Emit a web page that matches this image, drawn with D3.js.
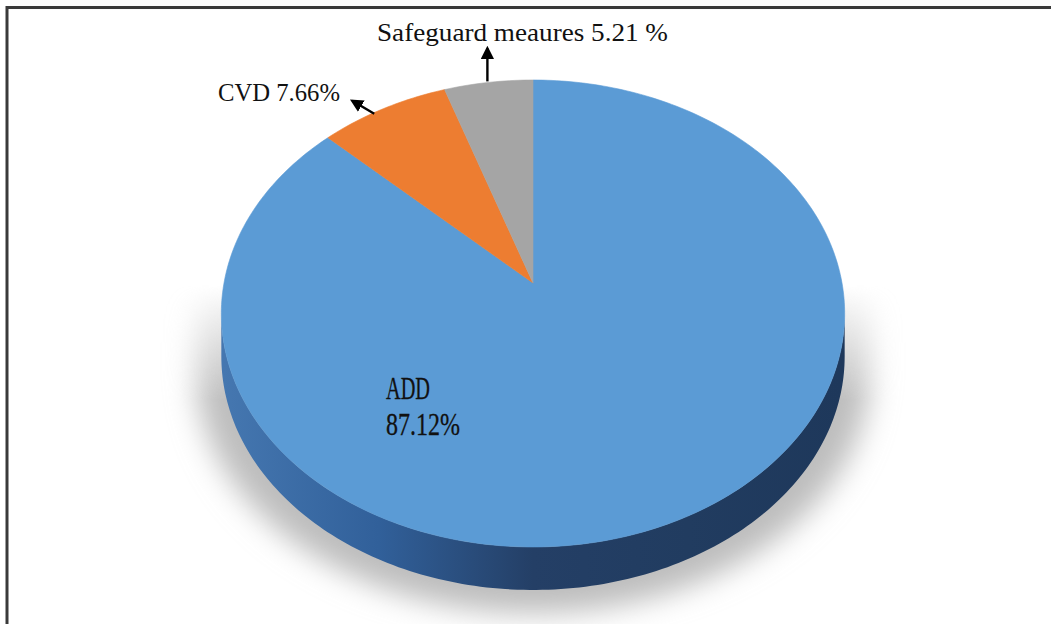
<!DOCTYPE html>
<html>
<head>
<meta charset="utf-8">
<script src="https://cdn.jsdelivr.net/npm/d3@7"></script>
<style>
  html, body { margin: 0; padding: 0; background: #ffffff; }
  svg { display: block; }
  text { font-family: "Liberation Serif", "Times New Roman", serif; fill: #111; }
</style>
</head>
<body>
<svg id="chart" width="1051" height="624"></svg>
<script>
// Share of trade remedy measures by type
const categories = ["ADD", "CVD", "Safeguard meaures"];
const shares = [87.12, 7.66, 5.21];
const labelTexts = ["87.12%", "7.66%", "5.21 %"];
const colors = ["#5b9bd5", "#ed7d31", "#a5a5a5"];

const svg = d3.select("#chart");
const W = 1051, H = 624;

// Tilted disc: perspective projection of a unit circle lying on a table
const cx = 533, cy = 283;          // projected centre of the disc
const F = 309, G = 229.5, u = 0.1306;
const depth = 43;                  // thickness of the disc edge

function proj(theta, dy = 0) {
  const X = Math.sin(theta), z = Math.cos(theta);
  const w = 1 + u * z;
  return [cx + F * X / w, cy - G * z / w + dy];
}

const pie = d3.pie().sort(null).value(d => d)(shares);
const line = d3.line();
const deg = Math.PI / 180;

function rim(a0, a1, dy = 0) {
  const n = Math.max(2, Math.ceil(Math.abs(a1 - a0) / deg));
  return d3.range(n + 1).map(i => proj(a0 + (a1 - a0) * i / n, dy));
}

const defs = svg.append("defs");
defs.append("filter").attr("id", "soft")
  .attr("x", "-20%").attr("y", "-20%").attr("width", "140%").attr("height", "140%")
  .append("feGaussianBlur").attr("stdDeviation", 14);

// Shadow fades in towards the lower half of the disc
const fade = defs.append("linearGradient").attr("id", "fadeGrad")
  .attr("gradientUnits", "userSpaceOnUse")
  .attr("x1", 0).attr("x2", 0).attr("y1", 285).attr("y2", 400);
fade.append("stop").attr("offset", 0).attr("stop-color", "#fff").attr("stop-opacity", 0);
fade.append("stop").attr("offset", 1).attr("stop-color", "#fff").attr("stop-opacity", 1);
defs.append("mask").attr("id", "fadeMask")
  .attr("maskUnits", "userSpaceOnUse")
  .attr("x", 0).attr("y", 0).attr("width", W).attr("height", H)
  .append("rect").attr("x", 0).attr("y", 0).attr("width", W).attr("height", H)
  .attr("fill", "url(#fadeGrad)");

const edgeGrad = defs.append("linearGradient").attr("id", "edgeGrad")
  .attr("gradientUnits", "userSpaceOnUse")
  .attr("x1", cx - F).attr("x2", cx + F).attr("y1", 0).attr("y2", 0);
[[0, "#4577b0"], [0.25, "#31609a"], [0.5, "#243f66"], [0.75, "#213c60"], [1, "#1e385b"]]
  .forEach(([o, c]) => edgeGrad.append("stop").attr("offset", o).attr("stop-color", c));

// Visible front edge runs between the two horizontal extremes of the disc
const aRight = Math.acos(-u), aLeft = 2 * Math.PI - Math.acos(-u);

// Soft shadow beneath the disc
const silhouette = rim(aLeft - 2 * Math.PI, aRight).concat(rim(aRight, aLeft, depth));
svg.append("g").attr("mask", "url(#fadeMask)")
  .append("path")
  .attr("d", line(silhouette) + "Z")
  .attr("transform", `translate(${cx},${cy + 14}) scale(1.08,1.03) translate(${-cx},${-cy})`)
  .attr("fill", "#bdbdbd")
  .attr("filter", "url(#soft)");

// Front edge of the disc
svg.append("path")
  .attr("d", line(rim(aRight, aLeft).concat(rim(aLeft, aRight, depth))) + "Z")
  .attr("fill", "url(#edgeGrad)");

// Top faces of the slices
svg.append("g").selectAll("path")
  .data(pie)
  .join("path")
  .attr("d", d => line([[cx, cy]].concat(rim(d.startAngle, d.endAngle))) + "Z")
  .attr("fill", (d, i) => colors[i])
  .attr("stroke", (d, i) => colors[i])
  .attr("stroke-width", 0.6);

// Arrow markers
defs.append("marker").attr("id", "arrow")
  .attr("viewBox", "0 0 10 10").attr("refX", 8).attr("refY", 5)
  .attr("markerWidth", 5.5).attr("markerHeight", 5.5)
  .attr("markerUnits", "strokeWidth").attr("orient", "auto")
  .append("path").attr("d", "M0,0 L10,5 L0,10 Z").attr("fill", "#000");

// Labels for the two small slices, with arrows from their rims
const outside = [
  { i: 1, tail: [-9, 5], tip: [-31, -8], text: [218, 101], width: 122 },
  { i: 2, tail: [-1, -1], tip: [-1, -34], text: [377, 41], width: 291 }
];
outside.forEach(o => {
  const d = pie[o.i];
  const p = proj((d.startAngle + d.endAngle) / 2);
  svg.append("line")
    .attr("x1", p[0] + o.tail[0]).attr("y1", p[1] + o.tail[1])
    .attr("x2", p[0] + o.tip[0]).attr("y2", p[1] + o.tip[1])
    .attr("stroke", "#000").attr("stroke-width", 2.4)
    .attr("marker-end", "url(#arrow)");
  svg.append("text")
    .attr("x", o.text[0]).attr("y", o.text[1])
    .attr("font-size", 26)
    .attr("textLength", o.width).attr("lengthAdjust", "spacingAndGlyphs")
    .text(`${categories[o.i]} ${labelTexts[o.i]}`);
});

// Label inside the large slice
const inner = svg.append("text").attr("font-size", 31)
  .attr("stroke", "#111").attr("stroke-width", 0.3);
inner.append("tspan").attr("x", 386).attr("y", 399)
  .attr("textLength", 44).attr("lengthAdjust", "spacingAndGlyphs")
  .text(categories[0]);
inner.append("tspan").attr("x", 386).attr("y", 435)
  .attr("textLength", 74).attr("lengthAdjust", "spacingAndGlyphs")
  .text(labelTexts[0]);

// Frame lines along the top and left edges
svg.append("line").attr("x1", 6).attr("x2", W).attr("y1", 7.5).attr("y2", 7.5)
  .attr("stroke", "#3a3a3a").attr("stroke-width", 3);
svg.append("line").attr("x1", 7).attr("x2", 7).attr("y1", 6).attr("y2", H)
  .attr("stroke", "#3a3a3a").attr("stroke-width", 3);
</script>
</body>
</html>
